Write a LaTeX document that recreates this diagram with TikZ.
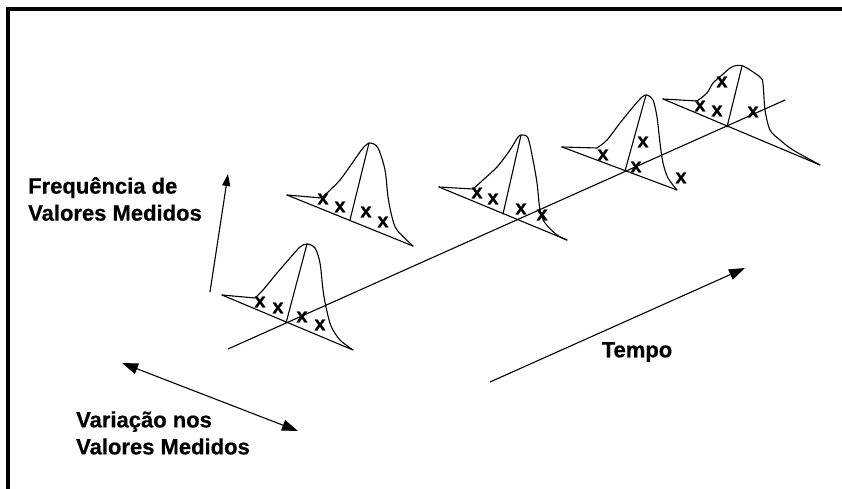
\documentclass[tikz,border=0pt]{standalone}
\usepackage{fontspec}
\newfontfamily\lblfont[FakeBold=0.6]{Liberation Sans Bold}
\usetikzlibrary{arrows.meta}

\begin{document}
\begin{tikzpicture}[x=1pt,y=-1pt,
  thin/.style={line width=1.1pt,line join=round,line cap=round},
  arr/.style={line width=1.1pt,-{Triangle[length=16pt,width=11pt]}},
  txt/.style={font=\lblfont\fontsize{22}{27}\selectfont,align=left,inner sep=0pt},
  xm/.style={font=\lblfont\fontsize{20}{20}\selectfont,inner sep=0pt}]
\useasboundingbox (0,0) rectangle (842,489);
\draw[line width=4pt] (8,489) -- (8,9) -- (842,9);

\node[txt,anchor=west] (freq) at (28,199) {Frequência de\\Valores Medidos};
\node[txt,anchor=west] (var) at (76,433) {Variação nos\\Valores Medidos};
\node[txt] (tempo) at (637,352) {Tempo};

\coordinate (f0) at (210,292);
\coordinate (f1) at (228,174);
\coordinate (v0) at (122,363);
\coordinate (v1) at (298,431);
\coordinate (t0) at (490,382);
\coordinate (t1) at (745,268);
\coordinate (a0) at (228,349);
\coordinate (a1) at (785,100);

\draw[arr,-{Triangle[length=12pt,width=8pt]}] (f0) -- (f1);
\draw[arr,{Triangle[length=16pt,width=11pt]}-{Triangle[length=16pt,width=11pt]}] (v0) -- (v1);
\draw[arr] (t0) -- (t1);
\draw[thin] (a0) -- (a1);

% curve 1
\draw[thin] (222,295) -- (353,350);
\draw[thin] (307,244) -- (286,323);
\draw[thin] (222,295) -- (255,298) plot[smooth,tension=.5] coordinates {(255,298) (263,290) (277,273) (290,258) (300,247) (307,244) (315,248) (320,263) (323,290) (326,307) (331,326) (340,340) (353,350)};
\node[xm] (x11) at (260,302) {x};
\node[xm] (x12) at (278,308) {x};
\node[xm] (x13) at (302,317) {x};
\node[xm] (x14) at (320,325) {x};

% curve 2
\draw[thin] (287,195) -- (413,246);
\draw[thin] (369,143) -- (350,220);
\draw[thin] (287,195) -- (322,198) plot[smooth,tension=.5] coordinates {(322,198) (327,193) (340,180) (353,162) (363,148) (370,143) (378,148) (385,170) (388,197) (392,217) (397,230) (413,246)};
\node[xm] (x21) at (323,199) {x};
\node[xm] (x22) at (340,207) {x};
\node[xm] (x23) at (366,212) {x};
\node[xm] (x24) at (383,222) {x};

% curve 3
\draw[thin] (439,187) -- (567,240);
\draw[thin] (521,135) -- (503,214);
\draw[thin] (439,187) -- (473,189) plot[smooth,tension=.5] coordinates {(473,189) (483,180) (497,167) (510,150) (518,137) (522,135) (528,138) (533,160) (537,183) (540,210) (545,223) (557,235) (567,240)};
\node[xm] (x31) at (477,193) {x};
\node[xm] (x32) at (493,199) {x};
\node[xm] (x33) at (521,209) {x};
\node[xm] (x34) at (542,215) {x};

% curve 4
\draw[thin] (562,147) -- (677,190);
\draw[thin] (646,95) -- (625,171);
\draw[thin] (562,147) -- (597,148) plot[smooth,tension=.5] coordinates {(597,148) (607,140) (620,123) (633,107) (642,97) (647,95) (653,100) (657,117) (660,143) (663,163) (668,178) (677,190)};
\node[xm] (x41) at (603,155) {x};
\node[xm] (x42) at (643,142) {x};
\node[xm] (x43) at (636,167) {x};
\node[xm] (x44) at (681,178) {x};

% curve 5
\draw[thin] (663,99) -- (820,165);
\draw[thin] (742,66) -- (727,127);
\draw[thin] (663,99) -- (697,101) plot[smooth,tension=.5] coordinates {(697,101) (707,93) (713,83) (722,75) (730,68) (734,66) (743,66) (760,77) (763,84) (765,110) (770,130) (780,140) (793,150) (820,165)};
\node[xm] (x51) at (722,82) {x};
\node[xm] (x52) at (700,106) {x};
\node[xm] (x53) at (717,111) {x};
\node[xm] (x54) at (753,112) {x};
\end{tikzpicture}
\end{document}
